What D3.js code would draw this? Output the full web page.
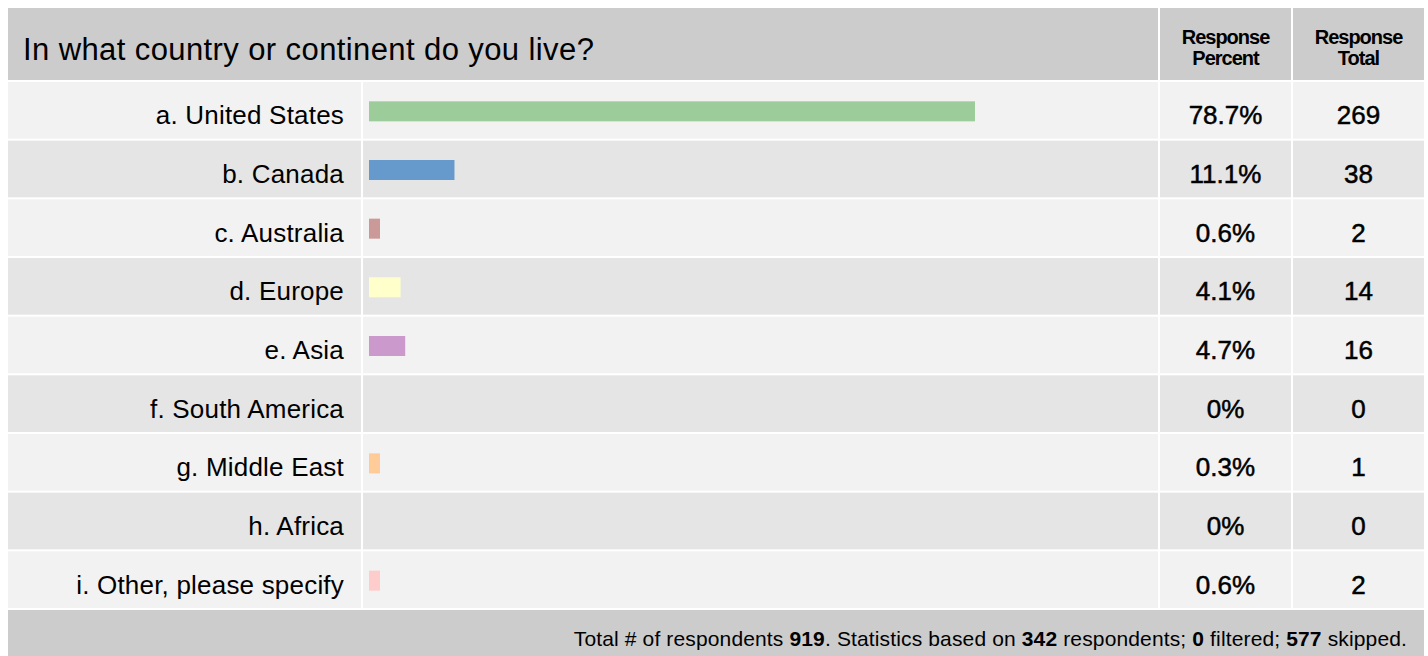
<!DOCTYPE html>
<html>
<head>
<meta charset="utf-8">
<script src="https://cdn.jsdelivr.net/npm/d3@7"></script>
<style>
  body { margin: 0; background: #fff; }
  svg text { font-family: "Liberation Sans", Arial, sans-serif; fill: #000; }
</style>
</head>
<body>
<div id="chart"></div>
<script>
const question = "In what country or continent do you live?";
const categories = ["a. United States", "b. Canada", "c. Australia", "d. Europe", "e. Asia",
    "f. South America", "g. Middle East", "h. Africa", "i. Other, please specify"];
const percents = [78.7, 11.1, 0.6, 4.1, 4.7, 0, 0.3, 0, 0.6];
const totals = [269, 38, 2, 14, 16, 0, 1, 0, 2];
const barColors = ["#9ccc9a", "#6699cc", "#cc9999", "#ffffcc", "#cc99cc", "#cccccc", "#ffcc99", "#cccccc", "#ffcccc"];
const footerParts = [
    ["Total # of respondents ", false], ["919", true], [". Statistics based on ", false], ["342", true],
    [" respondents; ", false], ["0", true], [" filtered; ", false], ["577", true], [" skipped.", false]
];

const W = 1428, H = 656;
const padLeft = 8, padRight = 1424, padTop = 8;
const headerBottom = 80, footerTop = 610;
const labelColEnd = 361, pctColStart = 1160, totColStart = 1293;

const data = categories.map((c, i) => ({ cat: c, pct: percents[i], total: totals[i], color: barColors[i] }));

const svg = d3.select("#chart").append("svg")
    .attr("width", W)
    .attr("height", H);

// header
svg.append("rect").attr("x", padLeft).attr("y", padTop)
    .attr("width", pctColStart - 2 - padLeft).attr("height", headerBottom - padTop).attr("fill", "#cccccc");
svg.append("rect").attr("x", pctColStart).attr("y", padTop)
    .attr("width", totColStart - 2 - pctColStart).attr("height", headerBottom - padTop).attr("fill", "#cccccc");
svg.append("rect").attr("x", totColStart).attr("y", padTop)
    .attr("width", padRight - totColStart).attr("height", headerBottom - padTop).attr("fill", "#cccccc");

svg.append("text").attr("x", 23).attr("y", 60)
    .style("font-size", "31px").style("letter-spacing", "0.4px").text(question);

const headCols = [
    { x: (pctColStart + totColStart - 2) / 2, lines: ["Response", "Percent"] },
    { x: (totColStart + padRight) / 2, lines: ["Response", "Total"] }
];
headCols.forEach(h => {
    h.lines.forEach((l, i) => {
        svg.append("text").attr("x", h.x).attr("y", 44 + i * 21)
            .attr("text-anchor", "middle")
            .style("font-size", "20px").style("font-weight", "bold")
            .style("letter-spacing", "-1px")
            .text(l);
    });
});

// rows
const y = d3.scaleBand().domain(categories).range([headerBottom + 1, footerTop - 1]);
const x = d3.scaleLinear().domain([0, 100]).range([369, 1139]);

const rows = svg.selectAll(".row").data(data).enter().append("g").attr("class", "row")
    .attr("transform", d => "translate(0," + y(d.cat) + ")");

const rh = y.bandwidth();
const cols = [[padLeft, labelColEnd], [labelColEnd + 2, pctColStart - 2], [pctColStart, totColStart - 2], [totColStart, padRight]];
cols.forEach(c => {
    rows.append("rect")
        .attr("x", c[0]).attr("y", 1)
        .attr("width", c[1] - c[0]).attr("height", rh - 2)
        .attr("fill", (d, i) => i % 2 === 0 ? "#f2f2f2" : "#e5e5e5");
});

rows.filter(d => d.pct > 0).append("rect")
    .attr("x", x(0))
    .attr("y", rh / 2 - 9)
    .attr("width", d => Math.max(x(d.pct) - x(0), 11))
    .attr("height", 20)
    .attr("fill", d => d.color);

rows.append("text")
    .attr("x", 344).attr("y", rh / 2 + 14)
    .attr("text-anchor", "end")
    .style("font-size", "26px").style("letter-spacing", "0.2px")
    .text(d => d.cat);

rows.append("text")
    .attr("x", (pctColStart + totColStart - 2) / 2).attr("y", rh / 2 + 14)
    .attr("text-anchor", "middle")
    .style("font-size", "26px")
    .style("stroke", "#000").style("stroke-width", "0.5px")
    .text(d => d.pct + "%");

rows.append("text")
    .attr("x", (totColStart + padRight) / 2).attr("y", rh / 2 + 14)
    .attr("text-anchor", "middle")
    .style("font-size", "26px")
    .style("stroke", "#000").style("stroke-width", "0.5px")
    .text(d => d.total);

// footer
svg.append("rect").attr("x", padLeft).attr("y", footerTop)
    .attr("width", padRight - padLeft).attr("height", H - footerTop).attr("fill", "#cccccc");

const foot = svg.append("text").attr("x", 1407).attr("y", 646)
    .attr("text-anchor", "end")
    .style("font-size", "21px").style("letter-spacing", "0.14px");
footerParts.forEach(p => {
    foot.append("tspan").style("font-weight", p[1] ? "bold" : "normal").text(p[0]);
});
</script>
</body>
</html>
